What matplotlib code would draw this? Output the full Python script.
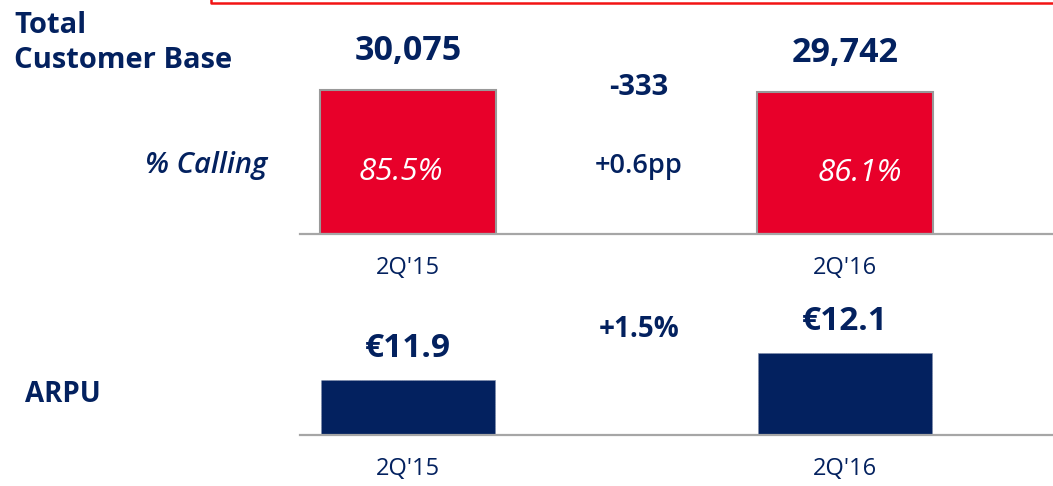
import matplotlib
matplotlib.use("Agg")
import matplotlib.pyplot as plt
from matplotlib.lines import Line2D

# ---- data ----
categories = ["2Q'15", "2Q'16"]
customers = [30075, 29742]
calling_pct = [85.5, 86.1]
arpu = [11.9, 12.1]
customer_delta = "-333"
calling_delta = "+0.6pp"
arpu_delta = "+1.5%"

# ---- style ----
W, H = 1053, 486
DPI = 100
NAVY = "#03215F"
RED = "#E8002A"
GRAY = "#A6A6A6"
FONT = "Open Sans"
plt.rcParams["font.family"] = [FONT, "DejaVu Sans"]

fig = plt.figure(figsize=(W / DPI, H / DPI), dpi=DPI)
fig.patch.set_facecolor("white")


def fx(px):
    return px / W


def fy(py):
    return 1 - py / H


def px2pt(p):
    return p * 72 / DPI


# axes geometry in pixels
ax_left, ax_right = 300, 1053
xlim = (-0.247, 1.476)
bar_w = 0.403

# ---- top axes: customer base ----
top_base, top_top = 234, 20
ax1 = fig.add_axes([fx(ax_left), fy(top_base), fx(ax_right - ax_left), (top_base - top_top) / H])
ymax1 = customers[0] * (top_base - top_top) / (top_base - 90)
ax1.bar(range(len(categories)), customers, width=bar_w, color=RED, edgecolor="#999999", linewidth=1.5, zorder=2)
ax1.set_xlim(*xlim)
ax1.set_ylim(0, ymax1)

# ---- bottom axes: ARPU ----
bot_base, bot_top = 435, 300
ax2 = fig.add_axes([fx(ax_left), fy(bot_base), fx(ax_right - ax_left), (bot_base - bot_top) / H])
ylo2 = 11.49
pxu = 134.0
ax2.bar(range(len(categories)), arpu, width=bar_w * 0.99, bottom=0, color=NAVY, edgecolor="#7f8aa8",
        linewidth=0.6, linestyle=":", zorder=2)
ax2.set_xlim(*xlim)
ax2.set_ylim(ylo2, ylo2 + (bot_base - bot_top) / pxu)

for ax in (ax1, ax2):
    for s in ("top", "right", "left"):
        ax.spines[s].set_visible(False)
    ax.spines["bottom"].set_color(GRAY)
    ax.spines["bottom"].set_linewidth(1.6)
    ax.spines["bottom"].set_zorder(3)
    ax.set_yticks([])
    ax.set_xticks(range(len(categories)))
    ax.set_xticklabels(categories, fontsize=17, color=NAVY, fontweight="medium")
    ax.tick_params(axis="x", length=0, pad=px2pt(22))
    ax.patch.set_alpha(0)

# value labels above bars
for i, v in enumerate(customers):
    ax1.annotate(f"{v:,}", xy=(i, v), xytext=(0, px2pt(30)), textcoords="offset points",
                 ha="center", va="baseline", fontsize=24.5, fontweight="bold", color=NAVY)
for i, v in enumerate(arpu):
    ax2.annotate(f"\u20ac{v:.1f}", xy=(i, v), xytext=(0, px2pt(23)), textcoords="offset points",
                 ha="center", va="baseline", fontsize=24, fontweight="bold", color=NAVY)

# in-bar percentage labels
pct_dx = [-7, 15]
for i, (v, p) in enumerate(zip(customers, calling_pct)):
    ax1.annotate(f"{p:.1f}%", xy=(i, v / 2), xytext=(px2pt(pct_dx[i]), -px2pt(18)),
                 textcoords="offset points", ha="center", va="baseline",
                 fontsize=22.5, fontstyle="italic", fontweight="medium", color="white")

# row labels and deltas
fig.text(fx(14), fy(33), "Total", fontsize=21, fontweight="bold", color=NAVY, ha="left", va="baseline")
fig.text(fx(14), fy(68), "Customer Base", fontsize=21, fontweight="bold", color=NAVY, ha="left", va="baseline")
fig.text(fx(267), fy(173), "% Calling", fontsize=21, fontstyle="italic", fontweight="semibold",
         color=NAVY, ha="right", va="baseline")
fig.text(fx(25), fy(402), "ARPU", fontsize=20, fontweight="bold", color=NAVY, ha="left", va="baseline")
fig.text(fx(639), fy(95), customer_delta, fontsize=21, fontweight="bold", color=NAVY, ha="center", va="baseline")
fig.text(fx(639), fy(173), calling_delta, fontsize=19.5, fontweight="semibold", color=NAVY,
         ha="center", va="baseline")
fig.text(fx(639), fy(337), arpu_delta, fontsize=20, fontweight="bold", color=NAVY, ha="center", va="baseline")

# red frame edge at the top
fig.add_artist(Line2D([fx(211), fx(211), fx(1053)], [fy(-2), fy(3), fy(3)],
                      transform=fig.transFigure, color="#F21414", linewidth=1.8))

fig.savefig("out.png", dpi=DPI, facecolor="white")
